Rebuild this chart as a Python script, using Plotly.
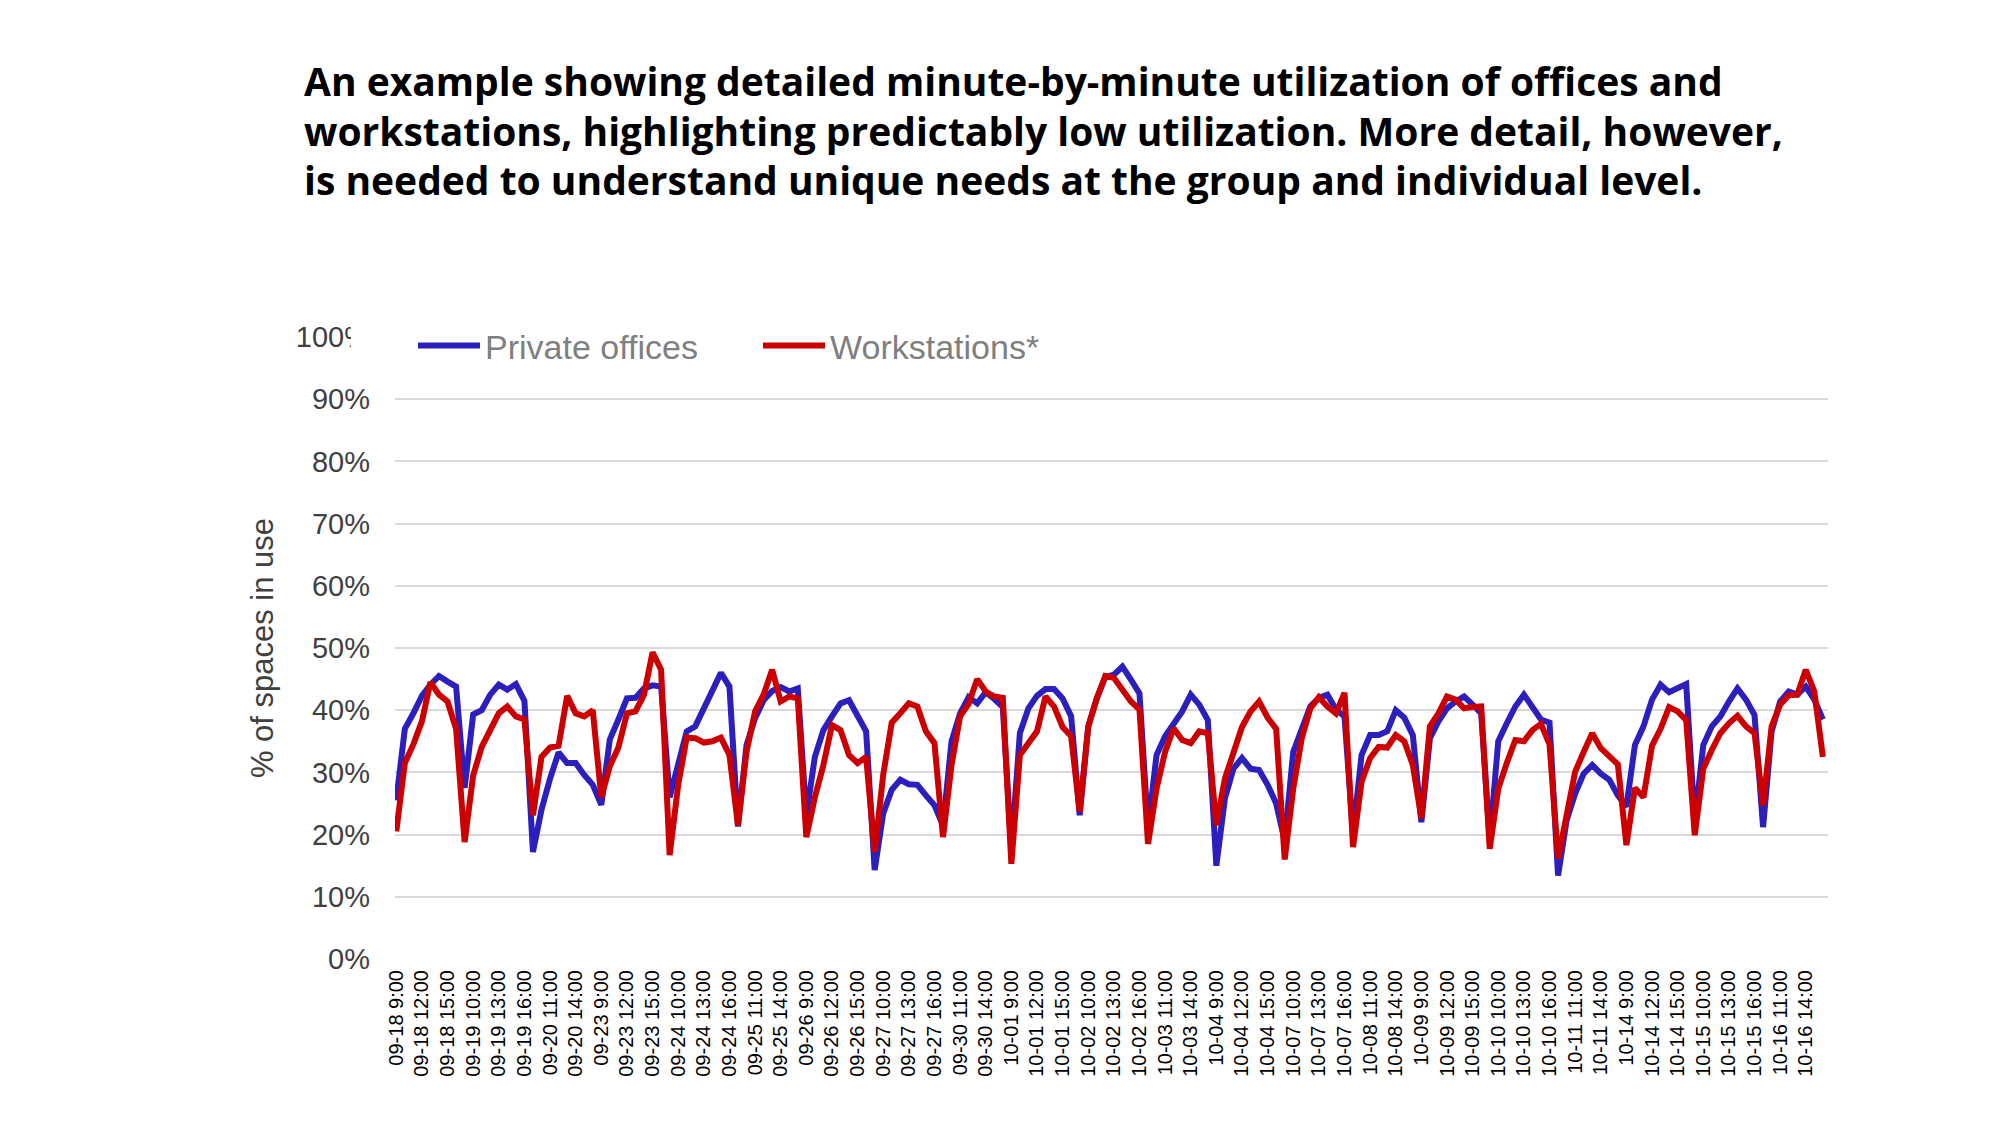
import plotly.graph_objects as go

# ---- data -------------------------------------------------------------
days = ["09-18", "09-19", "09-20", "09-23", "09-24", "09-25", "09-26", "09-27",
        "09-30", "10-01", "10-02", "10-03", "10-04", "10-07", "10-08", "10-09",
        "10-10", "10-11", "10-14", "10-15", "10-16"]
hours = ["9:00", "10:00", "11:00", "12:00", "13:00", "14:00", "15:00", "16:00"]

private_offices = [
    25.5, 37.0, 39.5, 42.3, 44.1, 45.5, 44.6, 43.8,   # 09-18
    27.5, 39.3, 40.0, 42.5, 44.1, 43.3, 44.2, 41.5,   # 09-19
    17.2, 24.0, 29.0, 33.2, 31.5, 31.5, 29.6, 28.0,   # 09-20
    24.8, 35.3, 38.5, 41.9, 42.0, 43.5, 44.0, 43.8,   # 09-23
    26.0, 31.0, 36.6, 37.4, 40.3, 43.5, 46.0, 43.8,   # 09-24
    21.3, 34.4, 38.7, 41.6, 43.1, 43.7, 43.0, 43.5,   # 09-25
    23.0, 32.5, 36.8, 39.0, 41.1, 41.6, 39.0, 36.6,   # 09-26
    14.3, 23.4, 27.2, 28.8, 28.1, 28.0, 26.3, 24.7,   # 09-27
    21.5, 35.0, 39.5, 42.1, 41.1, 42.9, 41.8, 40.5,   # 09-30
    17.5, 36.3, 40.3, 42.3, 43.4, 43.4, 41.9, 39.0,   # 10-01
    23.1, 37.4, 41.9, 45.3, 45.7, 47.0, 44.9, 42.7,   # 10-02
    21.0, 32.8, 35.8, 37.9, 39.8, 42.5, 40.9, 38.4,   # 10-03
    15.0, 25.8, 30.6, 32.3, 30.6, 30.4, 28.0, 25.0,   # 10-04
    19.0, 33.3, 37.1, 40.6, 42.0, 42.5, 40.1, 39.0,   # 10-07
    20.0, 32.8, 36.0, 36.0, 36.6, 40.0, 38.8, 36.0,   # 10-08
    22.0, 35.5, 38.2, 40.3, 41.4, 42.2, 40.9, 39.5,   # 10-09
    19.0, 35.0, 37.9, 40.6, 42.5, 40.3, 38.5, 38.0,   # 10-10
    13.4, 22.3, 26.6, 29.8, 31.2, 29.8, 28.8, 26.3,   # 10-11
    24.5, 34.4, 37.4, 41.7, 44.1, 42.9, 43.5, 44.2,   # 10-14
    22.0, 34.4, 37.4, 39.0, 41.4, 43.5, 41.7, 39.2,   # 10-15
    21.2, 36.6, 41.4, 43.0, 42.5, 43.8, 41.7, 38.5,   # 10-16
]

workstations = [
    20.5, 31.5, 34.5, 38.2, 44.5, 42.5, 41.4, 37.0,   # 09-18
    18.8, 29.5, 34.1, 36.6, 39.5, 40.6, 39.0, 38.5,   # 09-19
    23.1, 32.5, 34.0, 34.3, 42.3, 39.5, 39.0, 40.0,   # 09-20
    26.0, 31.0, 34.0, 39.5, 39.8, 42.5, 49.3, 46.5,   # 09-23
    16.7, 28.0, 35.6, 35.5, 34.8, 35.0, 35.6, 32.8,   # 09-24
    21.5, 33.3, 39.8, 42.5, 46.5, 41.4, 42.2, 41.9,   # 09-25
    19.6, 26.0, 31.2, 37.6, 36.8, 32.8, 31.5, 32.5,   # 09-26
    17.2, 29.6, 38.0, 39.5, 41.1, 40.6, 36.6, 34.7,   # 09-27
    19.6, 31.2, 39.0, 41.0, 45.0, 43.0, 42.2, 42.0,   # 09-30
    15.3, 32.8, 34.7, 36.6, 42.2, 40.6, 37.3, 35.8,   # 10-01
    23.7, 37.3, 41.9, 45.5, 45.2, 43.2, 41.4, 40.1,   # 10-02
    18.5, 27.4, 33.3, 37.1, 35.2, 34.7, 36.6, 36.3,   # 10-03
    21.5, 29.0, 33.3, 37.3, 39.8, 41.4, 38.8, 37.0,   # 10-04
    16.0, 27.4, 35.5, 40.3, 42.1, 40.6, 39.5, 42.8,   # 10-07
    18.0, 28.5, 32.3, 34.1, 34.0, 36.0, 35.0, 31.2,   # 10-08
    22.6, 37.4, 39.5, 42.2, 41.7, 40.3, 40.5, 40.6,   # 10-09
    17.7, 27.4, 31.5, 35.2, 35.0, 36.8, 37.8, 34.5,   # 10-10
    16.1, 23.4, 30.1, 33.3, 36.3, 33.9, 32.6, 31.3,   # 10-11
    18.3, 27.5, 26.0, 34.3, 37.0, 40.5, 39.8, 38.4,   # 10-14
    19.9, 30.6, 33.6, 36.3, 37.9, 39.1, 37.4, 36.3,   # 10-15
    24.7, 37.4, 40.9, 42.4, 42.5, 46.5, 43.0, 32.5,   # 10-16
]

series_names = ["Private offices", "Workstations*"]
y_ticks = [0, 10, 20, 30, 40, 50, 60, 70, 80, 90, 100]
title_lines = [
    "An example showing detailed minute-by-minute utilization of offices and",
    "workstations, highlighting predictably low utilization. More detail, however,",
    "is needed to understand unique needs at the group and individual level.",
]
y_title = "% of spaces in use"

# categories and every-third tick labels
categories = [f"{d} {h}" for d in days for h in hours]
tick_vals = categories[::3]

# ---- figure -------------------------------------------------------------
BLUE = "#2b1fbe"
RED = "#cc0000"

fig = go.Figure()
fig.add_trace(go.Scatter(x=categories, y=private_offices, mode="lines",
                         name=series_names[0],
                         line=dict(color=BLUE, width=6)))
fig.add_trace(go.Scatter(x=categories, y=workstations, mode="lines",
                         name=series_names[1],
                         line=dict(color=RED, width=6)))

W, H = 2000, 1125
L, R, T, B = 395, 172, 337, 166
pw, ph = W - L - R, H - T - B


def px_x(x):
    return (x - L) / pw


def px_y(y):
    return (H - B - y) / ph


fig.update_layout(
    width=W, height=H,
    margin=dict(l=L, r=R, t=T, b=B, autoexpand=False),
    paper_bgcolor="white", plot_bgcolor="white",
    font=dict(family="Liberation Sans, Arial, sans-serif", color="#404040"),
    showlegend=True,
    legend=dict(
        orientation="h", x=px_x(413), y=px_y(346), xanchor="left", yanchor="middle",
        bgcolor="rgba(0,0,0,0)", font=dict(size=34, color="#7f7f7f"),
        itemwidth=62, entrywidth=268, entrywidthmode="pixels",
        tracegroupgap=0,
    ),
    xaxis=dict(
        type="category", categoryorder="array", categoryarray=categories,
        range=[-0.15, len(categories) - 0.4],
        tickmode="array", tickvals=tick_vals, ticktext=tick_vals,
        tickangle=-90, tickfont=dict(size=20, color="#000000"),
        showgrid=False, zeroline=False, showline=False, ticks="",
        ticklabelstandoff=6,
    ),
    yaxis=dict(
        range=[0, 100], tickmode="array", tickvals=y_ticks,
        ticktext=[f"{v}%" for v in y_ticks],
        tickfont=dict(size=29, color="#404040"),
        showgrid=True, gridcolor="#d9d9d9", gridwidth=2,
        zeroline=False, showline=False, ticks="", ticklabelstandoff=24,
        title=dict(text=y_title, font=dict(size=31, color="#404040"), standoff=12),
    ),
    shapes=[dict(type="rect", xref="paper", yref="paper", layer="above",
                 x0=px_x(351), x1=px_x(1107), y0=px_y(372), y1=px_y(318),
                 fillcolor="white", line=dict(width=0))],
)

for i, line in enumerate(title_lines):
    fig.add_annotation(text=f"<b>{line}</b>", xref="paper", yref="paper",
                       x=px_x(302), y=px_y(80 + 50 * i), xanchor="left",
                       yanchor="middle", showarrow=False,
                       font=dict(family="Open Sans, Noto Sans, sans-serif",
                                 size=39, color="#000000"))

fig.write_html("out.html")
